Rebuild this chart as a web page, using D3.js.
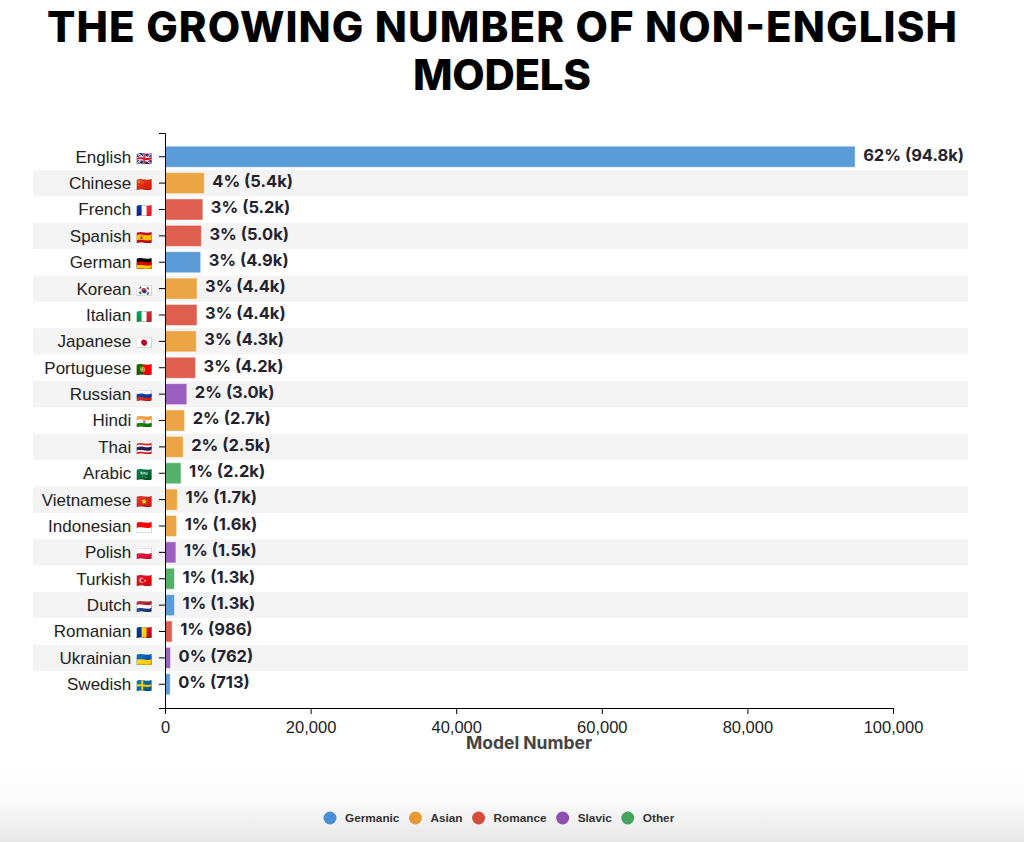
<!DOCTYPE html>
<html>
<head>
<meta charset="utf-8">
<script src="https://cdn.jsdelivr.net/npm/d3@7"></script>
<style>
  body { margin: 0; background: #fff; }
  svg { display: block; }
</style>
</head>
<body>
<div class="canvas"></div>
<script>
// data
var languages = ['English','Chinese','French','Spanish','German','Korean','Italian','Japanese','Portuguese','Russian','Hindi','Thai','Arabic','Vietnamese','Indonesian','Polish','Turkish','Dutch','Romanian','Ukrainian','Swedish'];
var flags = ['🇬🇧','🇨🇳','🇫🇷','🇪🇸','🇩🇪','🇰🇷','🇮🇹','🇯🇵','🇵🇹','🇷🇺','🇮🇳','🇹🇭','🇸🇦','🇻🇳','🇮🇩','🇵🇱','🇹🇷','🇳🇱','🇷🇴','🇺🇦','🇸🇪'];
var models = [94800,5400,5200,5000,4900,4400,4400,4300,4200,3000,2700,2500,2200,1700,1600,1500,1300,1300,986,762,713];
var shares = [62,4,3,3,3,3,3,3,3,2,2,2,1,1,1,1,1,1,1,0,0];
var families = ['Germanic','Asian','Romance','Romance','Germanic','Asian','Romance','Asian','Romance','Slavic','Asian','Asian','Other','Asian','Asian','Slavic','Other','Germanic','Romance','Slavic','Germanic'];
var groups = ['Germanic','Asian','Romance','Slavic','Other'];
var xTicks = [0,20000,40000,60000,80000,100000];
var titleLines = ['THE GROWING NUMBER OF NON-ENGLISH','MODELS'];

var W = 1024, H = 842;
var m = {t:133, l:165, r:131, b:134};

var svg = d3.select('.canvas').append('svg')
    .attr('width', W).attr('height', H);

// soft grey fade at the foot of the page
var grad = svg.append('defs').append('linearGradient').attr('id','foot')
    .attr('x1',0).attr('y1',0).attr('x2',0).attr('y2',1);
grad.append('stop').attr('offset','0%').attr('stop-color','#ffffff');
grad.append('stop').attr('offset','45%').attr('stop-color','#fbfbfb');
grad.append('stop').attr('offset','100%').attr('stop-color','#e7e7e7');
svg.append('rect').attr('x',0).attr('y',765).attr('width',W).attr('height',H-765).attr('fill','url(#foot)');

var barColor = d3.scaleOrdinal().domain(groups)
    .range(['#5a9bd8','#eba545','#de5f4f','#9b5fc0','#55b06a']);
var dotColor = d3.scaleOrdinal().domain(groups)
    .range(['#4a8fd6','#e69a35','#d24d3c','#8e4fb0','#45a35e']);

var rows = languages.map(function(d,i){
    return {name:d, flag:flags[i], value:models[i], pct:shares[i], fam:families[i]};
});

var x = d3.scaleLinear().domain([0,100000]).range([m.l, W-m.r]);
var y = d3.scaleBand().domain(languages).range([m.t, H-m.b])
    .paddingInner(0.2).paddingOuter(0.5);

// title, each line stretched to the width it has in the original
var titleW = [910,178], titleY = [42,90];
titleLines.forEach(function(s,i){
    svg.append('text')
        .attr('x',502).attr('y',titleY[i])
        .attr('text-anchor','middle')
        .attr('font-family','Inter, sans-serif')
        .attr('font-weight',800)
        .attr('font-size','42px')
        .attr('fill','#000')
        .attr('textLength',titleW[i])
        .attr('lengthAdjust','spacing')
        .text(s);
});

// stripes behind every other row
svg.append('g').selectAll('rect')
    .data(rows.filter(function(d,i){ return i%2==1; }))
    .enter().append('rect')
    .attr('x',33).attr('width',968-33)
    .attr('y', function(d){ return y(d.name)+y.bandwidth()/2-y.step()/2; })
    .attr('height', y.step())
    .attr('fill','#f4f4f4');

svg.selectAll('.bar')
    .data(rows)
    .enter().append('rect')
    .attr('class','bar')
    .attr('x', x(0))
    .attr('y', function(d){ return y(d.name); })
    .attr('width', function(d){ return x(d.value)-x(0); })
    .attr('height', y.bandwidth())
    .attr('fill', function(d){ return barColor(d.fam); })
    .attr('stroke','#ffffff').attr('stroke-opacity',0.5).attr('stroke-width',1);

svg.selectAll('.val')
    .data(rows)
    .enter().append('text')
    .attr('class','val')
    .attr('x', function(d){ return x(d.value)+8; })
    .attr('y', function(d){ return y(d.name)+y.bandwidth()/2-2; })
    .attr('dy','0.35em')
    .attr('font-family','Inter, sans-serif')
    .attr('font-weight',700)
    .attr('font-size','16.5px')
    .attr('fill','#23232f')
    .text(function(d){
        var v = d.value>=1000 ? (d.value/1000).toFixed(1)+'k' : d.value;
        return d.pct+'% ('+v+')';
    });

// axes
var yAxis = svg.append('g')
    .attr('transform','translate('+x(0)+',0)')
    .call(d3.axisLeft(y).tickFormat(''));
var lab = yAxis.selectAll('.tick').append('text')
    .attr('x',-13).attr('dy','0.35em')
    .attr('text-anchor','end')
    .attr('font-family','"Liberation Sans", Arial, sans-serif')
    .attr('font-size','17px')
    .attr('fill','#222');
lab.append('tspan').text(function(d){ return d+' '; });
lab.append('tspan').attr('font-size','13px').text(function(d,i){ return flags[i]; });

var xAxis = svg.append('g')
    .attr('transform','translate(0,'+(H-m.b)+')')
    .call(d3.axisBottom(x).tickValues(xTicks).tickFormat(d3.format(',')));
xAxis.selectAll('text')
    .attr('font-family','"Liberation Sans", Arial, sans-serif')
    .attr('font-size','16.5px')
    .attr('fill','#222')
    .attr('dy','0.95em');

svg.append('text')
    .attr('x',(x(0)+x(100000))/2).attr('y',749)
    .attr('text-anchor','middle')
    .attr('font-family','Inter, sans-serif')
    .attr('font-weight',700)
    .attr('font-size','17.5px')
    .attr('fill','#444')
    .text('Model Number');

// legend
var lg = svg.append('g');
var lx = 330;
groups.forEach(function(g){
    lg.append('circle').attr('cx',lx).attr('cy',818).attr('r',6.5).attr('fill',dotColor(g));
    var t = lg.append('text').attr('x',lx+15).attr('y',818).attr('dy','0.35em')
        .attr('font-family','"Liberation Sans", Arial, sans-serif')
        .attr('font-weight',700).attr('font-size','11.8px').attr('fill','#333')
        .text(g);
    lx += 15 + t.node().getComputedTextLength() + 16;
});
</script>
</body>
</html>
